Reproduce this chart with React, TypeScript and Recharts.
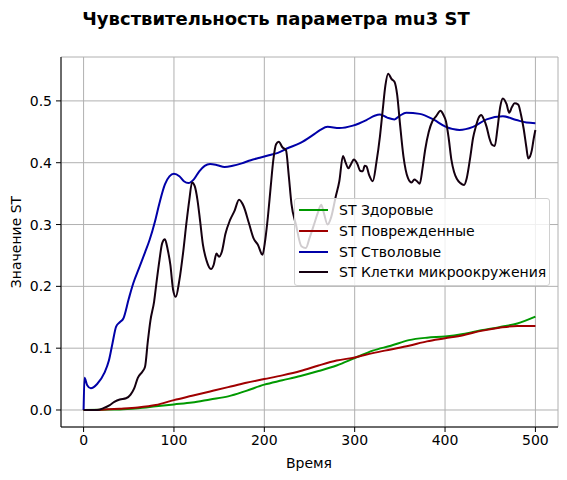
import React from 'react';
import { LineChart, Line, XAxis, YAxis, CartesianGrid } from 'recharts';

// time points and values
const healthyT = [0, 20, 40, 60, 80, 100, 120, 140, 160, 180, 200, 220, 240, 260, 280, 300, 320, 340, 360, 380, 400, 420, 440, 460, 480, 500];
const healthyV = [0, 0.0005, 0.001, 0.003, 0.006, 0.009, 0.012, 0.017, 0.022, 0.031, 0.041, 0.048, 0.055, 0.063, 0.072, 0.084, 0.096, 0.104, 0.113, 0.117, 0.119, 0.123, 0.129, 0.134, 0.14, 0.151];

const damagedT = healthyT;
const damagedV = [0, 0.0005, 0.002, 0.004, 0.008, 0.016, 0.023, 0.03, 0.037, 0.044, 0.05, 0.056, 0.063, 0.072, 0.08, 0.085, 0.092, 0.098, 0.104, 0.111, 0.116, 0.121, 0.128, 0.133, 0.136, 0.136];

const stemT = [0, 1, 4, 8, 15, 23, 28, 32, 36, 40, 44, 50, 55, 62, 68, 73, 79, 84, 90, 95, 100, 106, 111, 116, 122, 128, 134, 140, 148, 156, 165, 175, 185, 195, 205, 215, 225, 240, 254, 262, 270, 283, 298, 313, 322, 328, 336, 344, 350, 357, 372, 387, 401, 416, 431, 446, 464, 479, 490, 500];
const stemV = [0, 0.052, 0.04, 0.035, 0.042, 0.06, 0.08, 0.108, 0.135, 0.142, 0.148, 0.18, 0.205, 0.232, 0.255, 0.275, 0.305, 0.335, 0.365, 0.378, 0.382, 0.378, 0.37, 0.367, 0.373, 0.386, 0.395, 0.398, 0.396, 0.393, 0.395, 0.399, 0.404, 0.408, 0.412, 0.416, 0.423, 0.432, 0.445, 0.453, 0.458, 0.456, 0.46, 0.469, 0.476, 0.478, 0.473, 0.47, 0.476, 0.481, 0.479, 0.47, 0.458, 0.453, 0.458, 0.47, 0.475, 0.469, 0.465, 0.464];

const microT = [0, 15, 22, 29, 34, 40, 47, 52, 56, 60, 65, 68, 71, 74, 78, 81, 84, 87, 90, 93, 96, 99, 102, 106, 110, 114, 117, 120, 123, 126, 129, 132, 136, 141, 144, 147, 150, 153, 157, 162, 167, 172, 177, 183, 188, 193, 198, 201, 204, 207, 210, 213, 216, 220, 224, 227, 230, 235, 241, 246, 250, 255, 259, 263, 266, 270, 274, 279, 283, 287, 290, 293, 296, 299, 303, 306, 309, 311, 313, 316, 320, 324, 328, 331, 334, 337, 341, 344, 347, 350, 354, 359, 363, 366, 369, 372, 375, 378, 382, 386, 390, 395, 398, 401, 404, 407, 410, 413, 417, 421, 424, 428, 431, 434, 437, 440, 443, 446, 449, 452, 455, 458, 461, 464, 468, 471, 474, 477, 481, 484, 487, 490, 492, 494, 496, 498, 500];
const microV = [0, 0, 0.003, 0.008, 0.013, 0.017, 0.019, 0.025, 0.035, 0.052, 0.062, 0.07, 0.11, 0.145, 0.175, 0.21, 0.243, 0.27, 0.276, 0.26, 0.235, 0.195, 0.183, 0.21, 0.253, 0.305, 0.34, 0.368, 0.362, 0.34, 0.305, 0.268, 0.242, 0.228, 0.235, 0.253, 0.248, 0.256, 0.285, 0.307, 0.322, 0.34, 0.33, 0.302, 0.278, 0.267, 0.251, 0.275, 0.313, 0.36, 0.405, 0.43, 0.434, 0.425, 0.42, 0.38, 0.334, 0.3, 0.265, 0.262, 0.278, 0.3, 0.318, 0.332, 0.318, 0.3, 0.312, 0.345, 0.37, 0.411, 0.4, 0.391, 0.398, 0.405, 0.398, 0.387, 0.386, 0.395, 0.394, 0.38, 0.37, 0.4, 0.443, 0.485, 0.525, 0.544, 0.535, 0.531, 0.51, 0.465, 0.41, 0.375, 0.368, 0.373, 0.37, 0.366, 0.39, 0.421, 0.45, 0.467, 0.475, 0.484, 0.478, 0.467, 0.44, 0.405, 0.385, 0.374, 0.367, 0.364, 0.375, 0.41, 0.44, 0.458, 0.472, 0.477, 0.47, 0.458, 0.44, 0.429, 0.427, 0.455, 0.49, 0.504, 0.495, 0.481, 0.49, 0.496, 0.494, 0.478, 0.455, 0.425, 0.407, 0.41, 0.42, 0.438, 0.453];

const xTicks = [0, 100, 200, 300, 400, 500];
const yTicks = [0, 0.1, 0.2, 0.3, 0.4, 0.5];

const seriesNames = ['ST Здоровые', 'ST Поврежденные', 'ST Стволовые', 'ST Клетки микроокружения'];
const seriesColors = ['#009900', '#a00000', '#0000a8', '#150010'];

const toRows = (t: number[], v: number[]) => t.map((x, i) => ({ t: x, v: v[i] }));

const series = [
  toRows(healthyT, healthyV),
  toRows(damagedT, damagedV),
  toRows(stemT, stemV),
  toRows(microT, microV),
];

const FONT = '"DejaVu Sans", sans-serif';
const tickStyle = { fontFamily: FONT, fontSize: 14, fill: '#000' };

export default function App() {
  return (
    <div style={{ position: 'absolute', left: 0, top: 0, width: 567, height: 480, background: '#fff', fontFamily: FONT }}>
      <LineChart width={567} height={480} margin={{ top: 57, right: 9, bottom: 23, left: 0 }}>
        <CartesianGrid stroke="#b0b0b0" strokeWidth={1} />
        <XAxis
          dataKey="t"
          type="number"
          domain={[-25, 525]}
          ticks={xTicks}
          allowDataOverflow
          height={30}
          tickSize={5}
          tickMargin={3}
          tick={tickStyle}
          tickLine={{ stroke: '#000' }}
          axisLine={{ stroke: '#000' }}
        />
        <XAxis xAxisId="top" orientation="top" type="number" domain={[-25, 525]} height={0} tick={false} tickLine={false} axisLine={{ stroke: '#000' }} />
        <YAxis
          type="number"
          domain={[-0.0275, 0.571]}
          ticks={yTicks}
          allowDataOverflow
          width={61}
          tickSize={5}
          tickMargin={4}
          tick={tickStyle}
          tickFormatter={(v: number) => v.toFixed(1)}
          tickLine={{ stroke: '#000' }}
          axisLine={{ stroke: '#000' }}
        />
        <YAxis yAxisId="right" orientation="right" width={0} tick={false} tickLine={false} axisLine={{ stroke: '#000' }} />
        {series.map((rows, i) => (
          <Line
            key={seriesNames[i]}
            data={rows}
            dataKey="v"
            name={seriesNames[i]}
            type="monotone"
            stroke={seriesColors[i]}
            strokeWidth={2}
            dot={false}
            isAnimationActive={false}
          />
        ))}
      </LineChart>

      {/* title and axis labels */}
      <svg width={567} height={480} style={{ position: 'absolute', left: 0, top: 0, pointerEvents: 'none' }}>
        <text x={276} y={25} textAnchor="middle" fontFamily={FONT} fontSize={18} fontWeight="bold" fill="#000">
          Чувствительность параметра mu3 ST
        </text>
        <text x={309} y={468} textAnchor="middle" fontFamily={FONT} fontSize={14} fill="#000">
          Время
        </text>
        <text x={21} y={242} textAnchor="middle" fontFamily={FONT} fontSize={14} fill="#000" transform="rotate(-90 21 242)">
          Значение ST
        </text>
      </svg>

      {/* legend */}
      <div
        style={{
          position: 'absolute',
          left: 294,
          top: 198,
          width: 256,
          height: 88,
          boxSizing: 'border-box',
          background: 'rgba(255,255,255,0.8)',
          border: '1px solid #d0d0d0',
          borderRadius: 3,
        }}
      >
        {seriesNames.map((name, i) => (
          <div key={name} style={{ position: 'absolute', left: 4, top: 1 + i * 20.8, height: 20, display: 'flex', alignItems: 'center' }}>
            <span style={{ display: 'inline-block', width: 29, height: 2, background: seriesColors[i], marginRight: 11 }} />
            <span style={{ fontSize: 14, color: '#000', whiteSpace: 'nowrap' }}>{name}</span>
          </div>
        ))}
      </div>
    </div>
  );
}
